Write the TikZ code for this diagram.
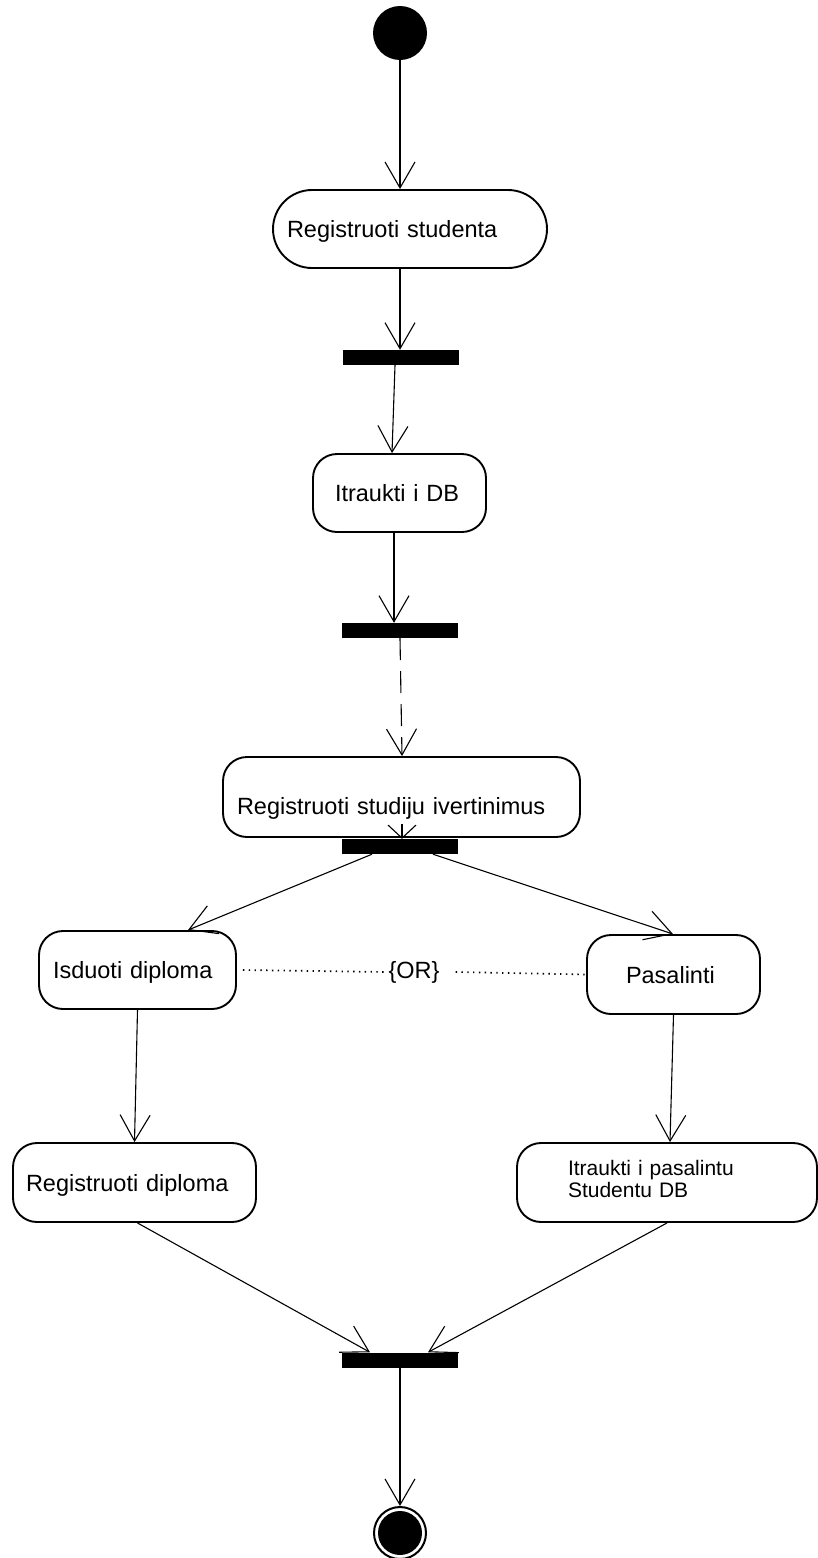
\documentclass[tikz,border=0pt]{standalone}
\usepackage{fontspec}
\setmainfont{Liberation Sans}
\usetikzlibrary{arrows.meta}
\tikzset{
  lbl/.style={font=\fontsize{23.5pt}{26pt}\selectfont},
  act/.style={draw, line width=1.9pt, rounded corners=24pt, inner ysep=0pt, align=left,
    font=\fontsize{23.5pt}{26pt}\selectfont, text height=17pt, text depth=0pt},
  bar/.style={rectangle, fill=black, inner sep=0pt, minimum width=116pt, minimum height=15pt},
  conn/.style={line width=1.1pt, -{Straight Barb[length=26pt,width=30pt]}},
  orline/.style={line width=1.7pt, dash pattern=on 1.4pt off 4.4pt},
}
\begin{document}
\begin{tikzpicture}[x=1pt,y=-1pt]
\useasboundingbox (0,0) rectangle (818,1558);
% start
\node[circle, fill=black, inner sep=0pt, minimum size=54pt] (start) at (400,33) {};
% activities
\node[act, rounded corners=39pt, minimum height=78pt, inner xsep=14pt, text width=246pt] (stud) at (410,229) {Registruoti studenta};
\node[bar] (b1) at (401,357.5) {};
\node[act, minimum height=78pt, inner xsep=22pt, text width=129pt] (db) at (399.5,493) {Itraukti i DB};
\node[bar] (b2) at (400,630.5) {};
\node[act, minimum height=80pt, inner xsep=14pt, text width=329pt, text height=34pt] (ivert) at (401.5,797) {Registruoti studiju ivertinimus};
\node[bar] (b3) at (399.5,846.5) {};
\node[act, minimum height=78pt, inner xsep=14pt, text width=169pt] (isd) at (137.5,970) {Isduoti diploma};
\node[act, minimum height=79pt, inner xsep=39pt, text width=95pt] (pas) at (673.5,974.5) {Pasalinti};
\node[lbl, inner sep=0pt] (or) at (414,972) {\{OR\}};
\node[act, minimum height=79pt, inner xsep=13pt, text width=217pt] (regdip) at (134.5,1182.5) {Registruoti diploma};
\node[act, minimum height=79pt, inner xsep=51pt, text width=198pt,
  font=\fontsize{21pt}{22pt}\selectfont, text height=5pt, text depth=20pt] (itp) at (667,1182.5) {Itraukti i pasalintu\\Studentu DB};
\node[bar] (b4) at (400,1360) {};
% end
\node[circle, draw, line width=2pt, inner sep=0pt, minimum size=52pt] (end) at (400,1533) {};
\node[circle, fill=black, inner sep=0pt, minimum size=44pt] (endin) at (end.center) {};
% connectors
\draw[conn] (start.south) -- (start |- stud.north);
\draw[conn] (start |- stud.south) -- (start |- b1.north);
\draw[conn] ([xshift=-6pt]b1.south) -- ([xshift=-7.5pt]db.north);
\draw[conn] ([xshift=-5.5pt]db.south) -- ([xshift=-6pt]b2.north);
\draw[conn, dash pattern=on 22pt off 11pt] (b2.south) -- ([xshift=0.5pt]ivert.north);
\draw[line width=1.1pt, -{Straight Barb[length=13pt,width=28pt]}] ([xshift=0.5pt,yshift=14pt]ivert.south) -- ([xshift=2.5pt]b3.north);
\draw[conn] ([xshift=-27.5pt]b3.south) -- ([xshift=50.5pt]isd.north);
\draw[conn] ([xshift=33.5pt]b3.south) -- ([xshift=-0.5pt]pas.north);
\draw[conn] (isd.south) -- (regdip.north);
\draw[conn] (pas.south) -- ([xshift=3pt]itp.north);
\draw[conn] ([xshift=3pt]regdip.south) -- ([xshift=-30pt]b4.north);
\draw[conn] (itp.south) -- ([xshift=28pt]b4.north);
\draw[conn] (b4.south) -- (end.north);
% OR constraint
\draw[orline] ([xshift=6pt]isd.east) -- ([xshift=-3pt]or.west);
\draw[orline] ([xshift=16pt]or.east) -- (pas.west);
\end{tikzpicture}
\end{document}
